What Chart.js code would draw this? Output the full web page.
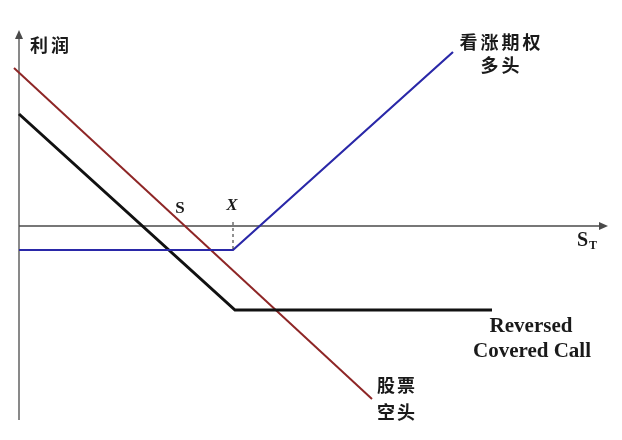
<!DOCTYPE html>
<html><head><meta charset="utf-8">
<script src="https://cdn.jsdelivr.net/npm/chart.js@4"></script>
<style>html,body{margin:0;padding:0;background:#fff}#w{width:622px;height:440px}</style>
</head><body><div id="w"><canvas id="c"></canvas></div>
<script>
// Data (x = stock price S_T units, y = profit units)
const coveredCallX = [0, 21.6, 47.3];
const coveredCallY = [11.2, -8.4, -8.4];
const shortStockX = [-0.5, 35.3];
const shortStockY = [15.8, -17.3];
const longCallX = [0, 21.4, 43.4];
const longCallY = [-2.4, -2.4, 17.4];
const strikeX = [21.4, 21.4];
const strikeY = [0.4, -2.4];
const axisXEnd = 58.9, axisYTop = 19.6, axisYBottom = -19.4;

const pts = (xs, ys) => xs.map((x, i) => ({x, y: ys[i]}));

const cjk = 'bold 18px "Noto Sans CJK SC"';
const labels = [
  {t: '利润', x: 1.1, y: 18.1, font: cjk, align: 'left', sp: 3},
  {t: '看涨期权', x: 48.1, y: 18.4, font: cjk, align: 'center', sp: 3},
  {t: '多头', x: 48.1, y: 16.1, font: cjk, align: 'center', sp: 3},
  {t: 'S', x: 16.1, y: 1.7, font: 'bold 17px "Liberation Serif"', align: 'center', sp: 0},
  {t: 'X', x: 21.3, y: 2.0, font: 'bold italic 17px "Liberation Serif"', align: 'center', sp: 0},
  {t: 'Reversed', x: 51.2, y: -10.1, font: 'bold 21px "Liberation Serif"', align: 'center', sp: 0},
  {t: 'Covered Call', x: 51.3, y: -12.6, font: 'bold 21px "Liberation Serif"', align: 'center', sp: 0},
  {t: '股票', x: 35.8, y: -15.9, font: cjk, align: 'left', sp: 2},
  {t: '空头', x: 35.8, y: -18.6, font: cjk, align: 'left', sp: 2}
];

const decor = {
  id: 'decor',
  beforeDatasetsDraw(chart) {
    const {ctx, scales: {x, y}} = chart;
    ctx.save();
    ctx.strokeStyle = '#4a4a4a'; ctx.fillStyle = '#4a4a4a'; ctx.lineWidth = 1.3;
    const x0 = x.getPixelForValue(0), y0 = y.getPixelForValue(0);
    const xe = x.getPixelForValue(axisXEnd), yt = y.getPixelForValue(axisYTop), yb = y.getPixelForValue(axisYBottom);
    ctx.beginPath(); ctx.moveTo(x0, yb); ctx.lineTo(x0, yt + 6); ctx.stroke();
    ctx.beginPath(); ctx.moveTo(x0, yt); ctx.lineTo(x0 - 4, yt + 9); ctx.lineTo(x0 + 4, yt + 9); ctx.closePath(); ctx.fill();
    ctx.beginPath(); ctx.moveTo(x0, y0); ctx.lineTo(xe - 6, y0); ctx.stroke();
    ctx.beginPath(); ctx.moveTo(xe, y0); ctx.lineTo(xe - 9, y0 - 4); ctx.lineTo(xe - 9, y0 + 4); ctx.closePath(); ctx.fill();
    ctx.restore();
  },
  afterDatasetsDraw(chart) {
    const {ctx, scales: {x, y}} = chart;
    ctx.save();
    ctx.fillStyle = '#1a1a1a'; ctx.textBaseline = 'middle';
    labels.forEach(l => {
      ctx.font = l.font; ctx.textAlign = l.align;
      ctx.letterSpacing = l.sp + 'px';
      let px = x.getPixelForValue(l.x);
      if (l.align === 'center') px += l.sp / 2;
      ctx.fillText(l.t, px, y.getPixelForValue(l.y));
    });
    ctx.letterSpacing = '0px';
    // S_T
    const sx = x.getPixelForValue(55.8), sy = y.getPixelForValue(-1.5);
    ctx.textAlign = 'left';
    ctx.font = 'bold 20px "Liberation Serif"'; ctx.fillText('S', sx, sy);
    ctx.font = 'bold 12px "Liberation Serif"'; ctx.fillText('T', sx + 12, sy + 5);
    ctx.restore();
  }
};

new Chart(document.getElementById('c'), {
  type: 'scatter',
  data: {
    datasets: [
      {data: pts(strikeX, strikeY), showLine: true, borderColor: '#222', borderWidth: 1, borderDash: [3, 3], pointRadius: 0},
      {data: pts(longCallX, longCallY), showLine: true, borderColor: '#2a28a8', borderWidth: 2.2, pointRadius: 0},
      {data: pts(coveredCallX, coveredCallY), showLine: true, borderColor: '#111', borderWidth: 3, pointRadius: 0},
      {data: pts(shortStockX, shortStockY), showLine: true, borderColor: '#8e2626', borderWidth: 2, pointRadius: 0}
    ]
  },
  options: {
    responsive: true, maintainAspectRatio: false, animation: false,
    layout: {padding: 0},
    plugins: {legend: {display: false}, tooltip: {enabled: false}},
    scales: {
      x: {type: 'linear', min: -1.9, max: 60.3, display: false},
      y: {type: 'linear', min: -21.4, max: 22.6, display: false}
    }
  },
  plugins: [decor]
});
</script></body></html>
